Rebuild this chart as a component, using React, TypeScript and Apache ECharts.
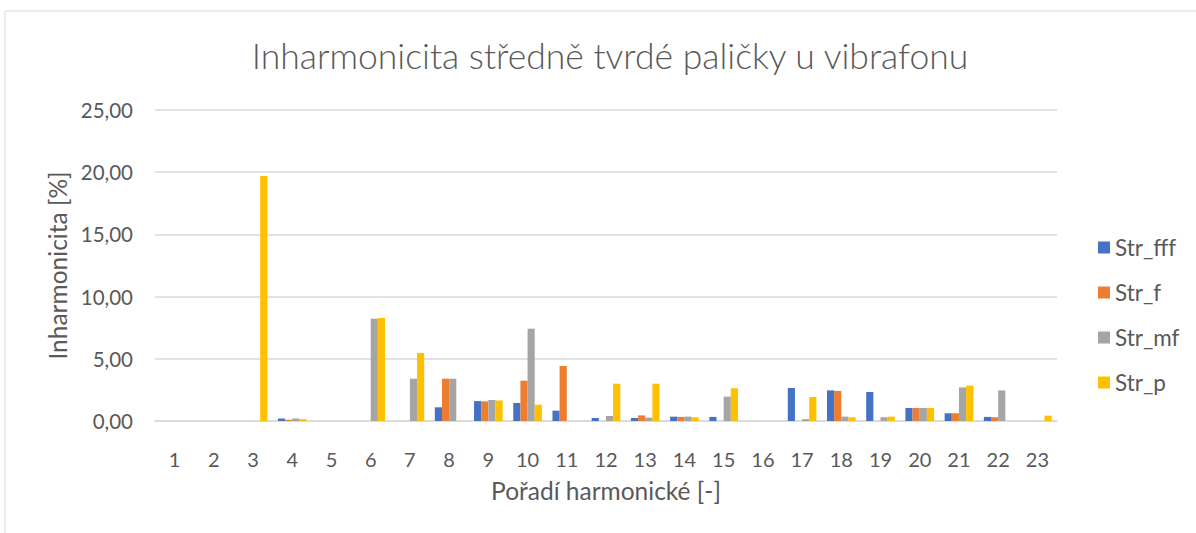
import React, { useEffect, useRef } from "react";
import * as echarts from "echarts";

const categories = ["1","2","3","4","5","6","7","8","9","10","11","12","13","14","15","16","17","18","19","20","21","22","23"];
const strFff = [0, 0, 0, 0.2, 0, 0, 0, 1.1, 1.6, 1.45, 0.83, 0.24, 0.24, 0.35, 0.33, 0, 2.65, 2.46, 2.33, 1.05, 0.62, 0.33, 0];
const strF = [0, 0, 0, 0.1, 0, 0, 0, 3.4, 1.58, 3.24, 4.42, 0, 0.45, 0.33, 0, 0, 0, 2.41, 0, 1.05, 0.62, 0.3, 0];
const strMf = [0, 0, 0, 0.2, 0, 8.22, 3.4, 3.4, 1.69, 7.42, 0, 0.4, 0.27, 0.35, 1.96, 0, 0.15, 0.35, 0.3, 1.05, 2.7, 2.46, 0];
const strP = [0, 0, 19.7, 0.15, 0, 8.28, 5.47, 0, 1.65, 1.31, 0, 3.0, 3.0, 0.3, 2.63, 0, 1.93, 0.3, 0.35, 1.05, 2.84, 0, 0.43];
const seriesNames = ["Str_fff", "Str_f", "Str_mf", "Str_p"];
const colors = ["#4472C4", "#ED7D31", "#A5A5A5", "#FFC000"];

export default function App() {
  const ref = useRef<HTMLDivElement>(null);
  useEffect(() => {
    document.body.style.margin = "0";
    const chart = echarts.init(ref.current!, null, { renderer: "svg" });
    const font = "Lato, 'Open Sans', sans-serif";
    const data = [strFff, strF, strMf, strP];
    chart.setOption({
      animation: false,
      textStyle: { fontFamily: font },
      graphic: [
        { type: "rect", shape: { x: 5, y: 11, width: 1200, height: 530 }, style: { fill: "none", stroke: "#d9d9d9", lineWidth: 1 }, silent: true, z: -1 },
      ],
      title: {
        text: "Inharmonicita středně tvrdé paličky u vibrafonu",
        left: 605,
        textAlign: "center",
        top: 32,
        textStyle: { fontFamily: font, fontSize: 35.5, fontWeight: 300, color: "#595959" },
      },
      legend: {
        orient: "vertical",
        left: 1093,
        top: 231,
        itemWidth: 12,
        itemHeight: 12,
        itemGap: 22,
        icon: "rect",
        textStyle: { fontFamily: font, fontSize: 22.5, color: "#595959" },
        data: seriesNames,
      },
      grid: { left: 155, right: 139, top: 110, bottom: 112, containLabel: false },
      xAxis: {
        type: "category",
        data: categories,
        name: "Pořadí harmonické [-]",
        nameLocation: "middle",
        nameGap: 69,
        nameTextStyle: { fontFamily: font, fontSize: 24.5, color: "#595959", verticalAlign: "middle" },
        axisLine: { lineStyle: { color: "#d9d9d9", width: 1.5 } },
        axisTick: { show: false },
        axisLabel: { fontFamily: font, fontSize: 20, color: "#595959", margin: 28 },
      },
      yAxis: {
        type: "value",
        min: 0,
        max: 25,
        interval: 5,
        name: "Inharmonicita [%]",
        nameLocation: "middle",
        nameGap: 98,
        nameRotate: 90,
        nameTextStyle: { fontFamily: font, fontSize: 24.5, color: "#595959", verticalAlign: "middle" },
        axisLine: { show: false },
        axisTick: { show: false },
        axisLabel: {
          fontFamily: font,
          fontSize: 20.5,
          color: "#595959",
          margin: 22,
          formatter: (v: number) => v.toFixed(2).replace(".", ","),
        },
        splitLine: { lineStyle: { color: "#d9d9d9", width: 1.5 } },
      },
      series: seriesNames.map((name, i) => ({
        name,
        type: "bar",
        data: data[i],
        barGap: "0%",
        barCategoryGap: "27%",
        itemStyle: { color: colors[i] },
      })),
    });
    return () => chart.dispose();
  }, []);
  return <div ref={ref} style={{ width: 1196, height: 533 }} />;
}
